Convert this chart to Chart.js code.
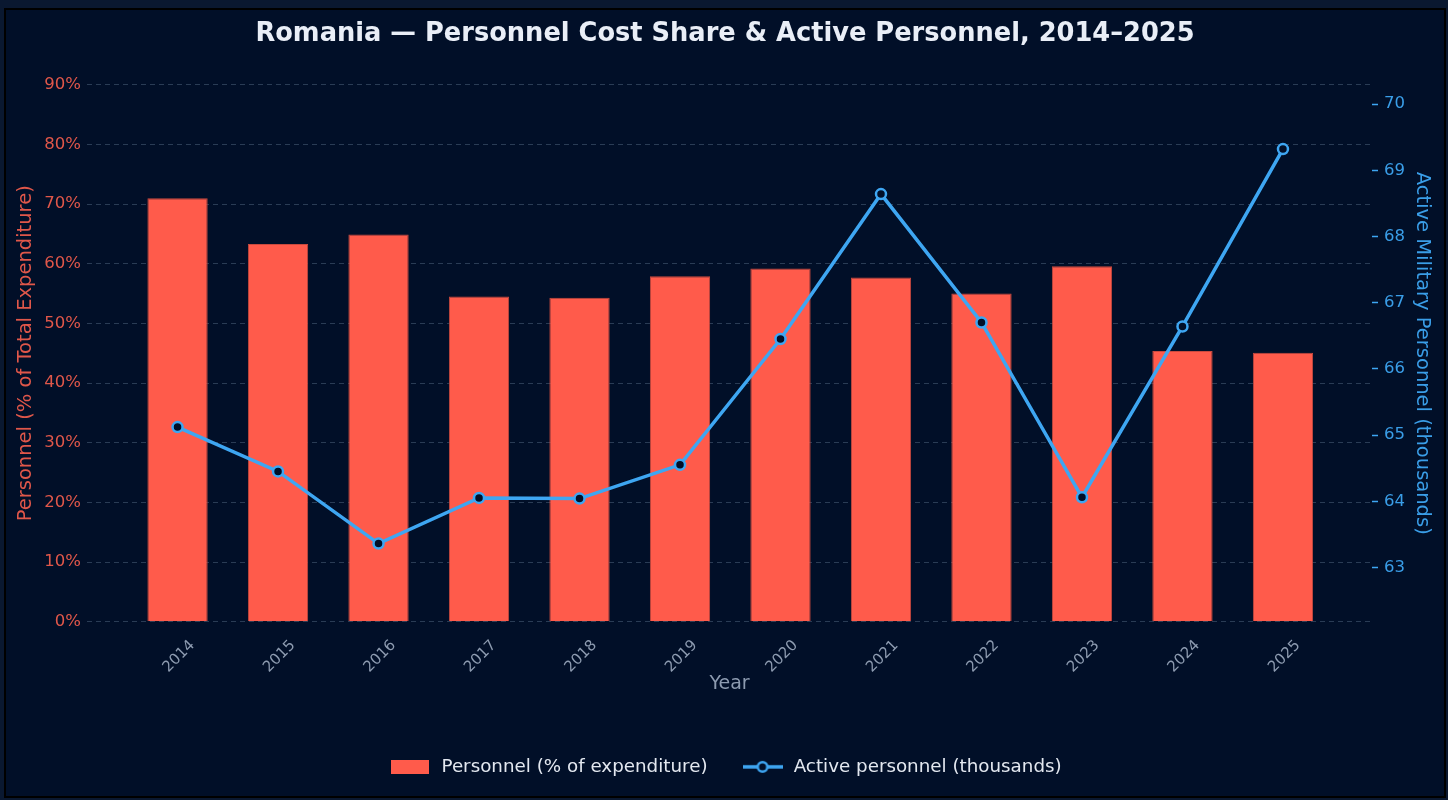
<!DOCTYPE html>
<html>
<head>
<meta charset="utf-8">
<script src="https://cdn.jsdelivr.net/npm/chart.js@4.4.1/dist/chart.umd.min.js"></script>
<style>
  html, body { margin: 0; padding: 0; background: #0a1830; width: 1448px; height: 800px; overflow: hidden; }
  #frame { position: absolute; left: 4px; top: 8px; width: 1438px; height: 786px; background: #010f28; border: 2px solid #000000; box-sizing: content-box; }
  #frame canvas { display: block; }
</style>
</head>
<body>
<div id="frame"><canvas id="c" width="1438" height="786"></canvas></div>
<script>
const years = ['2014','2015','2016','2017','2018','2019','2020','2021','2022','2023','2024','2025'];
const personnelSharePct = [71.0, 63.3, 64.9, 54.5, 54.3, 57.9, 59.2, 57.7, 55.0, 59.6, 45.4, 45.1];
const activePersonnelK = [65.12, 64.45, 63.36, 64.05, 64.04, 64.55, 66.45, 68.64, 66.70, 64.06, 66.64, 69.32];
const leftTicks = [0, 10, 20, 30, 40, 50, 60, 70, 80, 90];
const rightTicks = [63, 64, 65, 66, 67, 68, 69, 70];

const BG = '#010f28';
const RED = '#ff5b4b';
const BLUE = '#3ea6f2';

function makeBarIcon() {
  const c = document.createElement('canvas');
  c.width = 38; c.height = 14;
  const g = c.getContext('2d');
  g.fillStyle = RED; g.fillRect(0, 0, 38, 14);
  return c;
}
function makeLineIcon() {
  const c = document.createElement('canvas');
  c.width = 40; c.height = 14;
  const g = c.getContext('2d');
  g.strokeStyle = BLUE; g.lineWidth = 3.5;
  g.beginPath(); g.moveTo(0, 7); g.lineTo(40, 7); g.stroke();
  g.beginPath(); g.arc(20, 7, 4.8, 0, Math.PI * 2);
  g.fillStyle = BG; g.fill(); g.lineWidth = 2.5; g.stroke();
  return c;
}
const barIcon = makeBarIcon();
const lineIcon = makeLineIcon();

Chart.defaults.font.family = "'DejaVu Sans', sans-serif";

new Chart(document.getElementById('c'), {
  data: {
    datasets: [
      {
        type: 'bar',
        label: 'Personnel (% of expenditure)',
        data: personnelSharePct.map((v, i) => ({ x: i, y: v })),
        backgroundColor: RED,
        borderColor: '#c94a3e',
        borderWidth: 1,
        barPercentage: 0.6,
        categoryPercentage: 1.0,
        yAxisID: 'y',
        order: 1
      },
      {
        type: 'line',
        label: 'Active personnel (thousands)',
        data: activePersonnelK.map((v, i) => ({ x: i, y: v })),
        borderColor: BLUE,
        borderWidth: 3.5,
        pointRadius: 5,
        pointBackgroundColor: BG,
        pointBorderColor: BLUE,
        pointBorderWidth: 2.5,
        tension: 0,
        yAxisID: 'y1',
        order: 0
      }
    ]
  },
  options: {
    responsive: false,
    animation: false,
    layout: { padding: { left: 0, right: 0, top: 0, bottom: 10 } },
    plugins: {
      tooltip: { enabled: false },
      title: {
        display: true,
        text: 'Romania \u2014 Personnel Cost Share & Active Personnel, 2014\u20132025',
        color: '#e9eef7',
        font: { size: 25.7, weight: 'bold' },
        padding: { top: 9, bottom: 35 }
      },
      legend: {
        position: 'bottom',
        labels: {
          color: '#e3e8f0',
          font: { size: 18.3 },
          usePointStyle: true,
          pointStyleWidth: 44,
          padding: 33,
          sort: (a, b) => a.datasetIndex - b.datasetIndex,
          generateLabels: (chart) => {
            const items = Chart.defaults.plugins.legend.labels.generateLabels(chart);
            items.forEach(it => {
              it.pointStyle = it.datasetIndex === 0 ? barIcon : lineIcon;
              it.fontColor = '#e3e8f0';
            });
            return items;
          }
        }
      }
    },
    scales: {
      x: {
        type: 'linear',
        offset: false,
        min: -0.901,
        max: 11.886,
        grid: { display: false, drawTicks: false },
        border: { display: false },
        afterBuildTicks: (axis) => { axis.ticks = years.map((_, i) => ({ value: i })); },
        afterFit: (axis) => { axis.height = 103; },
        ticks: {
          color: '#8d9bb0',
          font: { size: 15 },
          minRotation: 45,
          maxRotation: 45,
          labelOffset: 15,
          padding: 15,
          autoSkip: false,
          callback: (v) => years[v]
        },
        title: {
          display: true,
          text: 'Year',
          color: '#8d9bb0',
          font: { size: 19 },
          padding: { top: 0, bottom: 29 }
        }
      },
      y: {
        position: 'left',
        min: 0,
        max: 90,
        afterBuildTicks: (axis) => { axis.ticks = leftTicks.map(v => ({ value: v })); },
        afterFit: (axis) => { axis.width = 81; },
        grid: { color: '#2a3c55', lineWidth: 1, drawTicks: false },
        border: { display: false, dash: [5, 4] },
        ticks: {
          color: '#e0574a',
          font: { size: 16.5 },
          padding: 6,
          callback: (v) => v + '%'
        },
        title: {
          display: true,
          text: 'Personnel (% of Total Expenditure)',
          color: '#e0574a',
          font: { size: 19.5 },
          padding: { top: 8, bottom: 0 }
        }
      },
      y1: {
        position: 'right',
        min: 62.18,
        max: 70.29,
        afterBuildTicks: (axis) => { axis.ticks = rightTicks.map(v => ({ value: v })); },
        afterFit: (axis) => { axis.width = 72; },
        grid: { drawOnChartArea: false, drawTicks: true, tickLength: 6, tickColor: BLUE, tickWidth: 1.5 },
        border: { display: false },
        ticks: {
          color: '#3a9ee8',
          font: { size: 16.5 },
          padding: 6
        },
        title: {
          display: true,
          text: 'Active Military Personnel (thousands)',
          color: '#3a9ee8',
          font: { size: 19.5 },
          padding: { top: 10, bottom: 0 }
        }
      }
    }
  }
});
</script>
</body>
</html>
